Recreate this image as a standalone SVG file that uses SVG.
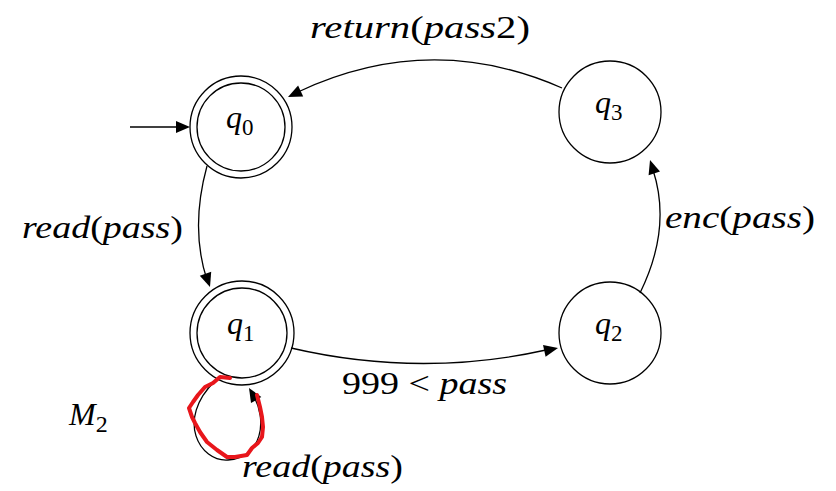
<svg xmlns="http://www.w3.org/2000/svg" width="836" height="491" viewBox="0 0 836 491">
<rect width="836" height="491" fill="#fff"/>
<g id="q0">
<circle cx="241" cy="127" r="51" fill="none" stroke="#000" stroke-width="1.3"/>
<circle cx="241" cy="127" r="44" fill="none" stroke="#000" stroke-width="1.3"/>
<text x="226" y="128" font-family="Liberation Serif" font-style="italic" font-size="32">q<tspan font-style="normal" font-size="23" dy="7">0</tspan></text>
</g>
<g id="q1">
<circle cx="242" cy="333" r="52" fill="none" stroke="#000" stroke-width="1.3"/>
<circle cx="242" cy="333" r="45" fill="none" stroke="#000" stroke-width="1.3"/>
<text x="227" y="334" font-family="Liberation Serif" font-style="italic" font-size="32">q<tspan font-style="normal" font-size="23" dy="7">1</tspan></text>
</g>
<g id="q2">
<circle cx="610" cy="333" r="51" fill="none" stroke="#000" stroke-width="1.3"/>
<text x="595" y="334" font-family="Liberation Serif" font-style="italic" font-size="32">q<tspan font-style="normal" font-size="23" dy="7">2</tspan></text>
</g>
<g id="q3">
<circle cx="610" cy="112" r="51" fill="none" stroke="#000" stroke-width="1.3"/>
<text x="595" y="113" font-family="Liberation Serif" font-style="italic" font-size="32">q<tspan font-style="normal" font-size="23" dy="7">3</tspan></text>
</g>
<g id="connectors">
<g fill="none" stroke="#000" stroke-width="1.3">
<path d="M130,127 L178,127"/>
<path d="M207,166 Q190,228 207,280"/>
<path d="M291,348 Q420,378 546,350"/>
<path d="M640,293 Q672,228 653,170"/>
<path d="M562,88 Q430,30 298,92"/>
<path d="M215,381 C175,420 200,462 228,460 C262,458 268,420 253,395"/>
</g>
<g fill="#000">
<polygon points="190,127 176,121 176,133"/>
<polygon points="210,287 199.8,275.7 211.2,271.8"/>
<polygon points="558,348 545.6,356.8 543,345.1"/>
<polygon points="650,160 660,171.5 648.6,175.2"/>
<polygon points="288,97 298.1,85.6 303.2,96.4"/>
<polygon points="249,388 261.3,397 251,403.1"/>
</g>
</g>
<g id="labels">
<text x="310" y="38" font-family="Liberation Serif" font-style="italic" font-size="32" textLength="220" lengthAdjust="spacingAndGlyphs">return<tspan font-style="normal">(</tspan>pass<tspan font-style="normal">2)</tspan></text>
<text x="22" y="238" font-family="Liberation Serif" font-style="italic" font-size="32" textLength="161" lengthAdjust="spacingAndGlyphs">read<tspan font-style="normal">(</tspan>pass<tspan font-style="normal">)</tspan></text>
<text x="665" y="228" font-family="Liberation Serif" font-style="italic" font-size="32" textLength="150" lengthAdjust="spacingAndGlyphs">enc<tspan font-style="normal">(</tspan>pass<tspan font-style="normal">)</tspan></text>
<text x="342" y="394" font-family="Liberation Serif" font-style="italic" font-size="32" textLength="165" lengthAdjust="spacingAndGlyphs"><tspan font-style="normal">999 &lt; </tspan>pass</text>
<text x="242" y="477" font-family="Liberation Serif" font-style="italic" font-size="32" textLength="161" lengthAdjust="spacingAndGlyphs">read<tspan font-style="normal">(</tspan>pass<tspan font-style="normal">)</tspan></text>
<text x="69" y="425" font-family="Liberation Serif" font-style="italic" font-size="32">M<tspan dy="7" font-style="normal" font-size="24">2</tspan></text>
</g>
<path d="M230,378 L220,377 L213,383 L205,387 L198,395 L193,402 L189,408 L192,417 L195,423 L200,432 L207,442 L217,450 L227,457 L235,457 L247,455 L252,448 L258,443 L262,437 L263,427 L262,417 L260,407 L257,395" fill="none" stroke="#e8161b" stroke-width="4" stroke-linejoin="round" stroke-linecap="round"/>
</svg>
